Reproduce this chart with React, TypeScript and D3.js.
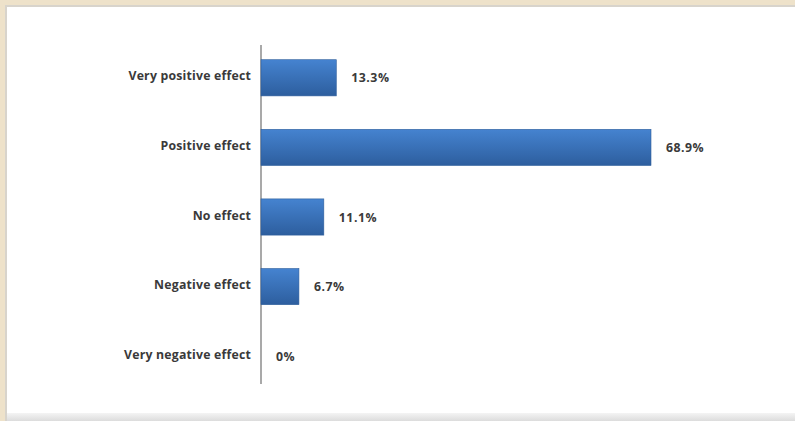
import React from "react";
import * as d3 from "d3";

const categories = [
  "Very positive effect",
  "Positive effect",
  "No effect",
  "Negative effect",
  "Very negative effect",
];
const values = [13.3, 68.9, 11.1, 6.7, 0];
const valueLabels = ["13.3%", "68.9%", "11.1%", "6.7%", "0%"];

const W = 795;
const H = 421;
const axisX = 261;

export default function App() {
  const x = d3.scaleLinear().domain([0, 68.9]).range([axisX, 651]);
  const y = d3
    .scaleBand<string>()
    .domain(categories)
    .range([43, 391])
    .paddingInner(0.48)
    .paddingOuter(0.24);
  const font = "'Open Sans', Lato, sans-serif";
  return (
    <svg
      width={W}
      height={H}
      style={{ position: "absolute", left: 0, top: 0, display: "block" }}
    >
      <defs>
        <linearGradient id="barGrad" x1="0" y1="0" x2="0" y2="1">
          <stop offset="0" stopColor="#4583d0" />
          <stop offset="1" stopColor="#2d5e9e" />
        </linearGradient>
        <linearGradient id="bottomShade" x1="0" y1="0" x2="0" y2="1">
          <stop offset="0" stopColor="#f4f4f4" />
          <stop offset="1" stopColor="#dcdcdc" />
        </linearGradient>
      </defs>
      <rect x={0} y={0} width={W} height={H} fill="#eee2ca" />
      <rect x={5} y={5} width={W - 5} height={H - 5} fill="#d8d4cc" />
      <rect x={7} y={7} width={W - 7} height={406} fill="#ffffff" />
      <rect x={7} y={413} width={W - 7} height={H - 413} fill="url(#bottomShade)" />
      <line
        x1={axisX}
        x2={axisX}
        y1={45}
        y2={384}
        stroke="#8c8c8c"
        strokeWidth={1.5}
      />
      {categories.map((c, i) => {
        const by = y(c)!;
        const bh = y.bandwidth();
        const cy = by + bh / 2;
        const bw = x(values[i]) - x(0);
        return (
          <g key={c}>
            {bw > 0 && (
              <rect
                x={x(0)}
                y={by}
                width={bw}
                height={bh}
                fill="url(#barGrad)"
                stroke="#2f5f9c"
                strokeWidth={0.6}
              />
            )}
            <text
              x={251}
              y={cy - 2}
              textAnchor="end"
              dominantBaseline="central"
              fontFamily={font}
              fontWeight={700}
              fontSize={12.3}
              letterSpacing={0.2}
              fill="#3a3a3a"
            >
              {c}
            </text>
            <text
              x={x(values[i]) + 15}
              y={cy}
              dominantBaseline="central"
              fontFamily={font}
              fontWeight={700}
              fontSize={12.3}
              letterSpacing={0.5}
              fill="#3a3a3a"
            >
              {valueLabels[i]}
            </text>
          </g>
        );
      })}
    </svg>
  );
}
